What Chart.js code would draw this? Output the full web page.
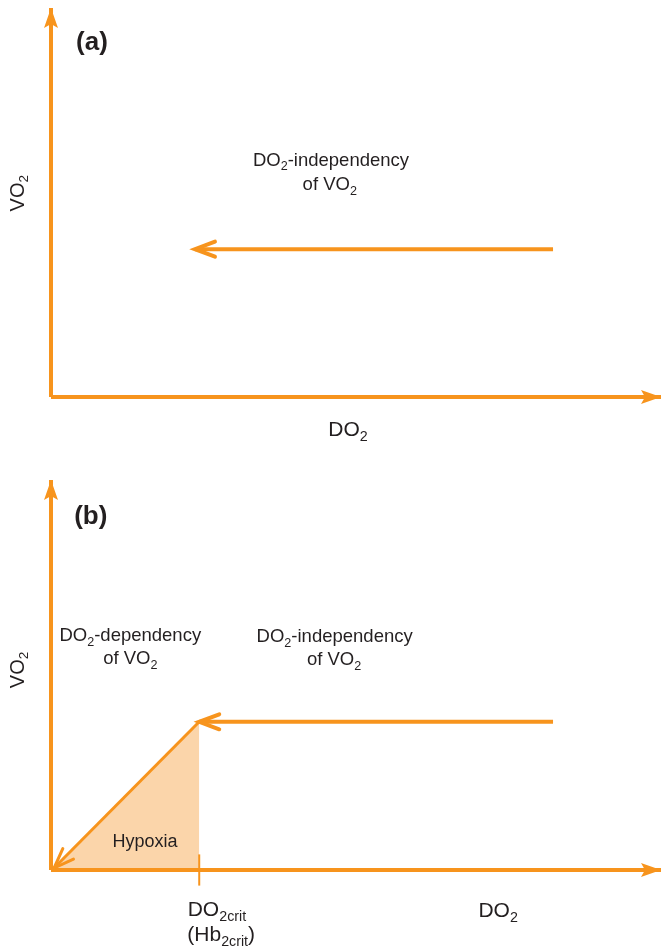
<!DOCTYPE html>
<html>
<head>
  <title>DO2 / VO2</title>
  <script src="https://cdn.jsdelivr.net/npm/chart.js@4/dist/chart.umd.min.js"></script>
  <style>
    body { margin: 0; background: #fff; }
    canvas { display: block; }
  </style>
</head>
<body>
  <canvas id="panelA" width="661" height="475"></canvas>
  <canvas id="panelB" width="661" height="476"></canvas>
  <script>
    // axes run 0..10 in arbitrary units (no ticks shown)
    const axisX = [0, 10];
    const axisY = [0, 10];

    // panel (a): VO2 plateau, drawn right to left
    const plateauAX = [8.23, 2.36];
    const plateauAY = [3.8, 3.8];

    // panel (b)
    const critDO2 = 2.43;
    const plateauBX = [8.23, 2.43];
    const plateauBY = [3.8, 3.8];
    const slopeBX = [2.43, 0.05];
    const slopeBY = [3.8, 0.05];
    const hypoxiaX = [0, 2.43, 2.43];
    const hypoxiaY = [0, 3.8, 0];
    const critTickY = [-0.4, 0.4];

    const ORANGE = '#f7941d';
    const FILL = 'rgba(250, 206, 155, 0.85)';
    const INK = '#231f20';
    const FONT = '"Liberation Sans", Arial, sans-serif';

    function line(xs, ys, width, arrow) {
      return {
        data: xs.map((x, i) => ({ x: x, y: ys[i] })),
        showLine: true,
        borderColor: ORANGE,
        borderWidth: width,
        pointRadius: 0,
        fill: false,
        clip: false,
        arrow: arrow
      };
    }

    // arrowheads at the last point of a dataset
    const arrowPlugin = {
      id: 'arrows',
      afterDatasetsDraw(chart) {
        const ctx = chart.ctx;
        chart.data.datasets.forEach((ds, i) => {
          if (!ds.arrow) return;
          const pts = chart.getDatasetMeta(i).data;
          const a = pts[pts.length - 2], b = pts[pts.length - 1];
          const ang = Math.atan2(b.y - a.y, b.x - a.x);
          const len = 20;
          const half = ds.arrow === 'filled' ? 7 : 7.5;
          const ux = Math.cos(ang), uy = Math.sin(ang);
          const bx = b.x - ux * len, by = b.y - uy * len;
          const p1 = [bx - uy * half, by + ux * half];
          const p2 = [bx + uy * half, by - ux * half];
          ctx.save();
          ctx.strokeStyle = ORANGE;
          ctx.fillStyle = ORANGE;
          ctx.lineJoin = 'miter';
          if (ds.arrow === 'filled') {
            ctx.beginPath();
            ctx.moveTo(b.x, b.y);
            ctx.lineTo(p1[0], p1[1]);
            ctx.lineTo(b.x - ux * len * 0.8, b.y - uy * len * 0.8);
            ctx.lineTo(p2[0], p2[1]);
            ctx.closePath();
            ctx.fill();
          } else {
            ctx.lineWidth = ds.borderWidth;
            ctx.lineCap = 'round';
            ctx.beginPath();
            ctx.moveTo(p1[0], p1[1]);
            ctx.lineTo(b.x, b.y);
            ctx.lineTo(p2[0], p2[1]);
            ctx.stroke();
          }
          ctx.restore();
        });
      }
    };

    // text with _{sub} parts
    function drawRich(ctx, str, cx, cy, size, bold, align) {
      const pieces = str.split(/_\{([^}]*)\}/).map((t, i) => ({ t: t, sub: i % 2 === 1 }));
      const subSize = size * 0.68;
      let w = 0;
      pieces.forEach(p => {
        ctx.font = (bold ? 'bold ' : '') + (p.sub ? subSize : size) + 'px ' + FONT;
        p.w = ctx.measureText(p.t).width;
        w += p.w;
      });
      let x = align === 'left' ? cx : cx - w / 2;
      ctx.textAlign = 'left';
      ctx.textBaseline = 'middle';
      pieces.forEach(p => {
        ctx.font = (bold ? 'bold ' : '') + (p.sub ? subSize : size) + 'px ' + FONT;
        ctx.fillText(p.t, x, cy + (p.sub ? size * 0.33 : 0));
        x += p.w;
      });
    }

    function notesPlugin(notes) {
      return {
        id: 'notes',
        afterDraw(chart) {
          const ctx = chart.ctx;
          const sx = chart.scales.x, sy = chart.scales.y;
          ctx.save();
          ctx.fillStyle = INK;
          notes.forEach(n => {
            const px = sx.getPixelForValue(n.x), py = sy.getPixelForValue(n.y);
            if (n.rotate) {
              ctx.save();
              ctx.translate(px, py);
              ctx.rotate(-Math.PI / 2);
              drawRich(ctx, n.text, 0, 0, n.size, n.bold, n.align);
              ctx.restore();
            } else {
              drawRich(ctx, n.text, px, py, n.size, n.bold, n.align);
            }
          });
          ctx.restore();
        }
      };
    }

    function panel(id, datasets, notes, padTop, padBottom) {
      return new Chart(document.getElementById(id), {
        type: 'scatter',
        data: { datasets: datasets },
        options: {
          responsive: false,
          animation: false,
          layout: { padding: { left: 51, right: 0, top: padTop, bottom: padBottom } },
          scales: {
            x: { type: 'linear', min: axisX[0], max: axisX[1], display: false },
            y: { type: 'linear', min: axisY[0], max: axisY[1], display: false }
          },
          plugins: { legend: { display: false }, tooltip: { enabled: false } }
        },
        plugins: [arrowPlugin, notesPlugin(notes)]
      });
    }

    panel('panelA', [
      line([axisX[0], axisX[0]], axisY, 4, 'filled'),
      line(axisX, [axisY[0], axisY[0]], 4, 'filled'),
      line(plateauAX, plateauAY, 4, 'open')
    ], [
      { text: '(a)', x: 0.41, y: 9.1, size: 26, bold: true, align: 'left' },
      { text: 'DO_{2}-independency', x: 4.59, y: 6.07, size: 18.5 },
      { text: 'of VO_{2}', x: 4.57, y: 5.45, size: 18.5 },
      { text: 'VO_{2}', x: -0.54, y: 5.24, size: 20, rotate: true },
      { text: 'DO_{2}', x: 4.87, y: -0.85, size: 21 }
    ], 8, 78);

    panel('panelB', [
      line([axisX[0], axisX[0]], axisY, 4, 'filled'),
      line(axisX, [axisY[0], axisY[0]], 4, 'filled'),
      line(plateauBX, plateauBY, 4, 'open'),
      line(slopeBX, slopeBY, 3, 'open'),
      line([critDO2, critDO2], critTickY, 2),
      {
        data: hypoxiaX.map((x, i) => ({ x: x, y: hypoxiaY[i] })),
        showLine: true,
        borderWidth: 0,
        borderColor: 'rgba(0,0,0,0)',
        backgroundColor: FILL,
        pointRadius: 0,
        fill: 'origin',
        clip: false
      }
    ], [
      { text: '(b)', x: 0.38, y: 9.05, size: 26, bold: true, align: 'left' },
      { text: 'DO_{2}-dependency', x: 1.30, y: 6.0, size: 18.5 },
      { text: 'of VO_{2}', x: 1.30, y: 5.41, size: 18.5 },
      { text: 'DO_{2}-independency', x: 4.65, y: 5.97, size: 18.5 },
      { text: 'of VO_{2}', x: 4.64, y: 5.38, size: 18.5 },
      { text: 'VO_{2}', x: -0.54, y: 5.13, size: 20, rotate: true },
      { text: 'Hypoxia', x: 1.54, y: 0.72, size: 18 },
      { text: 'DO_{2crit}', x: 2.72, y: -1.03, size: 21 },
      { text: '(Hb_{2crit})', x: 2.79, y: -1.66, size: 21 }, 
      { text: 'DO_{2}', x: 7.33, y: -1.05, size: 21 }
    ], 5, 81);
  </script>
</body>
</html>
